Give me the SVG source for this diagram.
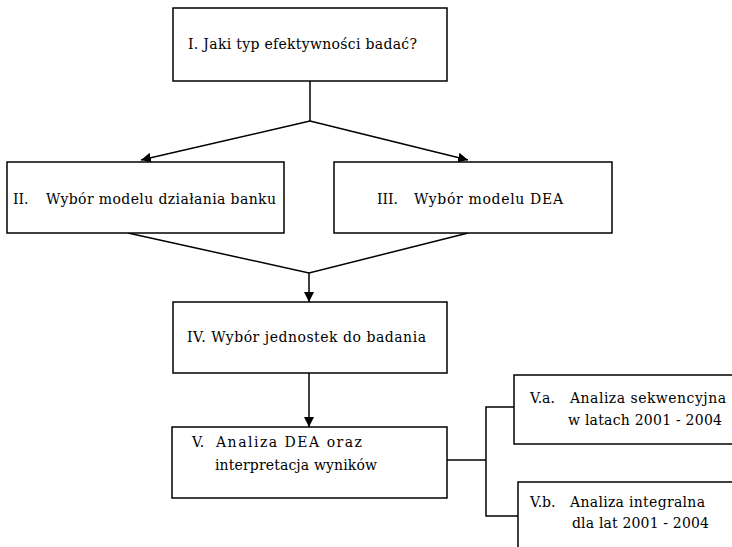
<svg xmlns="http://www.w3.org/2000/svg" width="732" height="547" viewBox="0 0 732 547">
<defs>
<style>
.box{fill:#fff;stroke:#000;stroke-width:1.5}
.t{font-family:'DejaVu Serif','Liberation Serif',serif;font-size:14px;fill:#000}
.c{fill:none;stroke:#000;stroke-width:1.5}
</style>
<marker id="ah" viewBox="0 0 10 10" refX="10" refY="5" markerWidth="10" markerHeight="10" markerUnits="userSpaceOnUse" orient="auto">
<path d="M0,0 L10,5 L0,10 z" fill="#000"/>
</marker>
</defs>
<rect width="732" height="547" fill="#fff"/>
<g id="connectors">
<polyline class="c" points="310,81 310,121"/>
<line class="c" x1="310" y1="121" x2="141" y2="160" marker-end="url(#ah)"/>
<line class="c" x1="310" y1="121" x2="468" y2="160" marker-end="url(#ah)"/>
<polyline class="c" points="128,233 309,273 468,233"/>
<line class="c" x1="309" y1="273" x2="309" y2="302" marker-end="url(#ah)"/>
<line class="c" x1="309" y1="373" x2="309" y2="427" marker-end="url(#ah)"/>
<line class="c" x1="447" y1="460" x2="486" y2="460"/>
<polyline class="c" points="514,407 486,407 486,516 518,516"/>
</g>
<g id="n1">
<rect class="box" x="173" y="8" width="274" height="73"/>
<text class="t" x="188" y="49" textLength="229" lengthAdjust="spacing">I. Jaki typ efektywności badać?</text>
</g>
<g id="n2">
<rect class="box" x="7" y="162" width="277" height="71"/>
<text class="t" x="13" y="204">II.</text>
<text class="t" x="46" y="204" textLength="230" lengthAdjust="spacing">Wybór modelu działania banku</text>
</g>
<g id="n3">
<rect class="box" x="334" y="162" width="278" height="71"/>
<text class="t" x="377" y="204">III.</text>
<text class="t" x="414" y="204" textLength="149" lengthAdjust="spacing">Wybór modelu DEA</text>
</g>
<g id="n4">
<rect class="box" x="173" y="302" width="274" height="71"/>
<text class="t" x="187" y="342" textLength="239" lengthAdjust="spacing">IV. Wybór jednostek do badania</text>
</g>
<g id="n5">
<rect class="box" x="172" y="427" width="275" height="71"/>
<text class="t" x="192" y="447">V.</text>
<text class="t" x="216" y="447" textLength="146" lengthAdjust="spacing">Analiza DEA oraz</text>
<text class="t" x="215" y="470" textLength="162" lengthAdjust="spacing">interpretacja wyników</text>
</g>
<g id="n5a">
<rect class="box" x="514" y="375" width="230" height="69"/>
<text class="t" x="530" y="403">V.a.</text>
<text class="t" x="570" y="403" textLength="156" lengthAdjust="spacing">Analiza sekwencyjna</text>
<text class="t" x="568" y="425" textLength="154" lengthAdjust="spacing">w latach 2001 - 2004</text>
</g>
<g id="n5b">
<rect class="box" x="518" y="482" width="230" height="80"/>
<text class="t" x="530" y="507">V.b.</text>
<text class="t" x="570" y="507" textLength="135" lengthAdjust="spacing">Analiza integralna</text>
<text class="t" x="572" y="528" textLength="137" lengthAdjust="spacing">dla lat 2001 - 2004</text>
</g>
</svg>
